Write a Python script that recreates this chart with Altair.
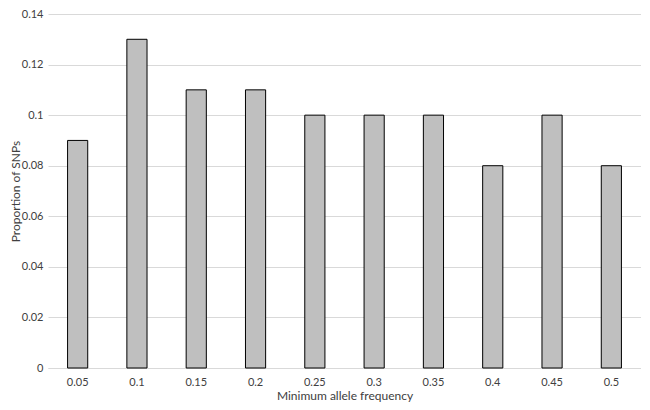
import altair as alt
import pandas as pd

maf = ["0.05", "0.1", "0.15", "0.2", "0.25", "0.3", "0.35", "0.4", "0.45", "0.5"]
proportion = [0.09, 0.13, 0.11, 0.11, 0.10, 0.10, 0.10, 0.08, 0.10, 0.08]

df = pd.DataFrame({"maf": maf, "prop": proportion})

FONT = "Lato"
TXT = "#404040"

chart = alt.Chart(df).mark_bar(
    color="#bfbfbf", stroke="#000000", strokeWidth=1
).encode(
    x=alt.X("maf:N", sort=maf, title="Minimum allele frequency",
            scale=alt.Scale(paddingInner=0.66, paddingOuter=0.33),
            axis=alt.Axis(labelAngle=0, ticks=False, domain=True, domainColor="#d9d9d9",
                          labelPadding=8, titlePadding=3, labelFontSize=11,
                          titleFontSize=12, labelFont=FONT, titleFont=FONT,
                          labelColor=TXT, titleColor=TXT, titleFontWeight="normal")),
    y=alt.Y("prop:Q", title="Proportion of SNPs",
            scale=alt.Scale(domain=[0, 0.14], nice=False),
            axis=alt.Axis(values=[0, 0.02, 0.04, 0.06, 0.08, 0.1, 0.12, 0.14],
                          format="~g", ticks=False, domain=False, grid=True,
                          gridColor="#d9d9d9", gridWidth=1, labelPadding=5,
                          titleX=-26, titleFontSize=12, labelFontSize=11,
                          labelFont=FONT, titleFont=FONT, labelColor=TXT,
                          titleColor=TXT, titleFontWeight="normal")),
).properties(
    width=593, height=354,
    autosize=alt.AutoSizeParams(type="none"),
    padding={"left": 40, "top": 6, "right": 0, "bottom": 34},
).configure_view(stroke=None)

chart.save("out.html", embed_options={"renderer": "svg", "actions": False})
